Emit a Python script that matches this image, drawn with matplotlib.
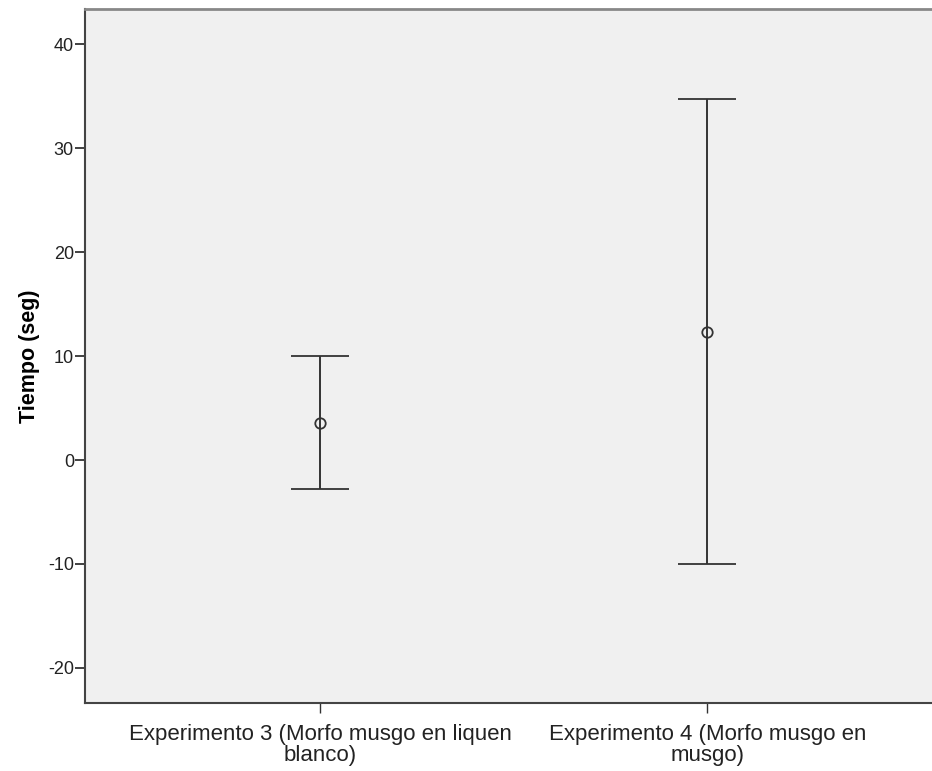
import matplotlib.pyplot as plt
import numpy as np

# datos (media e intervalo)
grupos = ['Experimento 3 (Morfo musgo en liquen\nblanco)',
          'Experimento 4 (Morfo musgo en\nmusgo)']
media = [3.6, 12.3]
limite_sup = [10.0, 34.7]
limite_inf = [-2.8, -10.0]

plt.rcParams['font.family'] = ['Liberation Sans', 'DejaVu Sans']
plt.rcParams['axes.unicode_minus'] = False

fig = plt.figure(figsize=(9.32, 7.71), dpi=100)
ax = fig.add_axes([0.0912, 0.0882, 0.9088, 0.9])
ax.set_facecolor('#f0f0f0')

x = np.arange(len(grupos))
media = np.array(media)
err = [media - np.array(limite_inf), np.array(limite_sup) - media]
ax.errorbar(x, media, yerr=err, fmt='o', mfc='none', mec='#333333', ms=7.5, mew=1.3,
            ecolor='#333333', elinewidth=1.4, capsize=21, capthick=1.4)

ax.set_xlim(-0.607, 1.58)
ax.set_ylim(-23.37, 43.37)
ax.set_yticks([-20, -10, 0, 10, 20, 30, 40])
ax.set_xticks(x)
ax.set_xticklabels(grupos, fontsize=16, linespacing=1.0, color='#222222')
ax.tick_params(axis='y', labelsize=13, length=7, width=1.3, color='#333333', pad=1,
               labelcolor='#222222')
ax.tick_params(axis='x', length=7, width=1, color='#333333', pad=8)
ax.set_ylabel('Tiempo (seg)', fontsize=15.5, fontweight='bold', labelpad=6)

for s in ['left', 'bottom']:
    ax.spines[s].set_color('#444444')
    ax.spines[s].set_linewidth(1.5)
ax.spines['top'].set_color('#888888')
ax.spines['top'].set_linewidth(2)
ax.spines['right'].set_visible(False)

fig.savefig('out.png', dpi=100)
